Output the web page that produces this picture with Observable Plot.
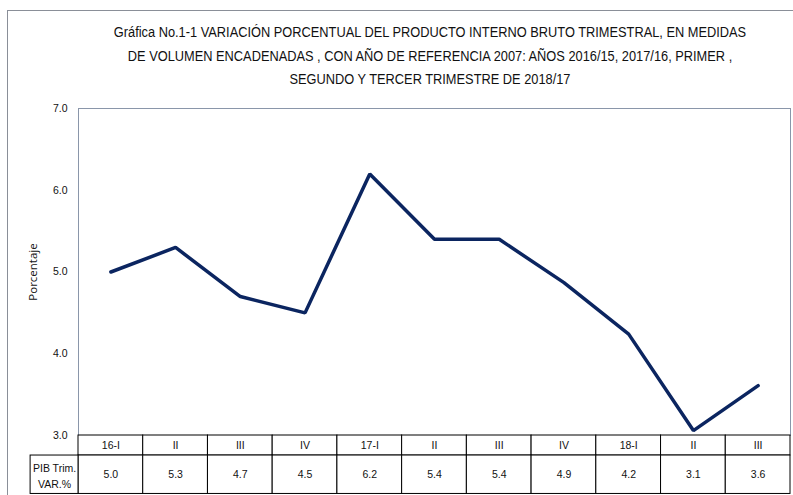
<!DOCTYPE html>
<html>
<head>
<meta charset="utf-8">
<script src="https://cdn.jsdelivr.net/npm/d3@7"></script>
<script src="https://cdn.jsdelivr.net/npm/@observablehq/plot@0.6"></script>
<style>
  html, body { margin: 0; padding: 0; background: #fff; overflow: hidden; }
  #page { position: relative; width: 793px; height: 495px; overflow: hidden; }
  #border { position: absolute; left: 7px; top: 10px; width: 900px; height: 600px;
            border-left: 1px solid #8a8f98; border-top: 1px solid #8a8f98; }
  #title { position: absolute; top: 21px; left: 30px; width: 800px; text-align: center;
           font-family: "Liberation Sans", Arial, sans-serif;
           font-size: 14px; line-height: 23.5px; color: #111; white-space: nowrap;
           transform: scaleX(0.915); transform-origin: 400px 0; }
  #chart { position: absolute; left: 0; top: 95px; }
</style>
</head>
<body>
<div id="page">
  <div id="border"></div>
  <div id="title">Gráfica No.1-1 VARIACIÓN PORCENTUAL DEL PRODUCTO INTERNO BRUTO TRIMESTRAL, EN MEDIDAS<br>DE VOLUMEN ENCADENADAS , CON AÑO DE REFERENCIA 2007: AÑOS 2016/15, 2017/16, PRIMER ,<br>SEGUNDO Y TERCER TRIMESTRE DE 2018/17</div>
  <div id="chart"></div>
</div>
<script>
const quarters = ["16-I", "II", "III", "IV", "17-I", "II", "III", "IV", "18-I", "II", "III"];
const tableValues = ["5.0", "5.3", "4.7", "4.5", "6.2", "5.4", "5.4", "4.9", "4.2", "3.1", "3.6"];
const lineValues = [5.0, 5.3, 4.7, 4.5, 6.2, 5.4, 5.4, 4.87, 4.24, 3.06, 3.61];
const yTicks = [3, 4, 5, 6, 7];
const yLabel = "Porcentaje";
const rowLabel = "PIB Trim.\nVAR.%";

// table layout in scale units (below the y domain)
const headerTop = 3.0, headerBottom = 2.755, valueBottom = 2.285;
const labelLeft = -1.24;

const rows = quarters.map((q, i) => ({i, q, label: tableValues[i], v: lineValues[i]}));
const font = "'Liberation Sans', Arial, sans-serif";

const chart = Plot.plot({
  width: 793,
  height: 400,
  marginTop: 13,
  marginBottom: 60,
  marginLeft: 78,
  marginRight: 3,
  style: {fontFamily: font, fontSize: "10.5px", color: "#111", background: "transparent"},
  x: {domain: [-0.5, 10.5], axis: null},
  y: {domain: [3, 7], axis: null},
  marks: [
    Plot.frame({stroke: "#8a96aa"}),
    Plot.axisY(yTicks, {tickSize: 0, tickPadding: 11, tickFormat: d3.format(".1f"), label: null, fontSize: 10.5}),
    Plot.text([yLabel], {frameAnchor: "left", textAnchor: "middle", rotate: -90, dx: -45, fontSize: 11.5, fontFamily: "'Open Sans', sans-serif"}),
    Plot.line(rows, {x: "i", y: "v", stroke: "#0b2560", strokeWidth: 3.5, strokeLinejoin: "miter"}),
    // header row
    Plot.rect(rows, {x1: d => d.i - 0.5, x2: d => d.i + 0.5, y1: headerTop, y2: headerBottom, fill: "white", stroke: "black", strokeWidth: 1}),
    // value row
    Plot.rect(rows, {x1: d => d.i - 0.5, x2: d => d.i + 0.5, y1: headerBottom, y2: valueBottom, fill: "white", stroke: "black", strokeWidth: 1}),
    Plot.rect([rowLabel], {x1: labelLeft, x2: -0.5, y1: headerBottom, y2: valueBottom, fill: "white", stroke: "black", strokeWidth: 1}),
    Plot.text(rows, {x: "i", y: (headerTop + headerBottom) / 2, text: "q", fontSize: 10.5}),
    Plot.text(rows, {x: "i", y: (headerBottom + valueBottom) / 2, text: "label", fontSize: 10.5}),
    Plot.text([rowLabel], {x: (labelLeft - 0.5) / 2, y: (headerBottom + valueBottom) / 2, text: d => d, fontSize: 10.5, lineHeight: 1.5})
  ]
});
document.getElementById("chart").appendChild(chart);
</script>
</body>
</html>
